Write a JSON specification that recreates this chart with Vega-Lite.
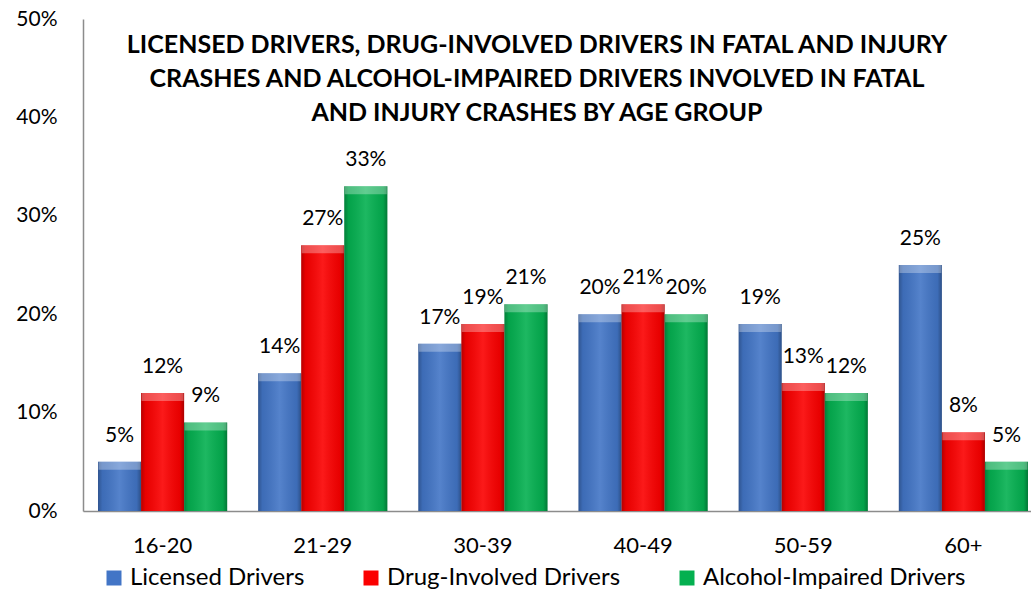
{
  "$schema": "https://vega.github.io/schema/vega-lite/v6.json",
  "width": 948,
  "height": 492,
  "autosize": {"type": "none"},
  "padding": {"left": 83, "top": 19, "right": 0, "bottom": 81},
  "background": "white",
  "config": {
    "font": "Lato",
    "view": {"stroke": null}
  },
  "title": {
    "text": [
      "LICENSED DRIVERS, DRUG-INVOLVED DRIVERS IN FATAL AND INJURY",
      "CRASHES AND ALCOHOL-IMPAIRED DRIVERS INVOLVED IN FATAL",
      "AND INJURY CRASHES BY AGE GROUP"
    ],
    "anchor": "middle",
    "baseline": "top",
    "offset": -14,
    "dx": -20,
    "dy": 104,
    "fontSize": 25,
    "fontWeight": "bold",
    "lineHeight": 34,
    "color": "#000000"
  },
  "data": {
    "values": [
      {"age": "16-20", "series": "Licensed Drivers", "pct": 0.05},
      {"age": "16-20", "series": "Drug-Involved Drivers", "pct": 0.12},
      {"age": "16-20", "series": "Alcohol-Impaired Drivers", "pct": 0.09},
      {"age": "21-29", "series": "Licensed Drivers", "pct": 0.14},
      {"age": "21-29", "series": "Drug-Involved Drivers", "pct": 0.27},
      {"age": "21-29", "series": "Alcohol-Impaired Drivers", "pct": 0.33},
      {"age": "30-39", "series": "Licensed Drivers", "pct": 0.17},
      {"age": "30-39", "series": "Drug-Involved Drivers", "pct": 0.19},
      {"age": "30-39", "series": "Alcohol-Impaired Drivers", "pct": 0.21},
      {"age": "40-49", "series": "Licensed Drivers", "pct": 0.20},
      {"age": "40-49", "series": "Drug-Involved Drivers", "pct": 0.21},
      {"age": "40-49", "series": "Alcohol-Impaired Drivers", "pct": 0.20},
      {"age": "50-59", "series": "Licensed Drivers", "pct": 0.19},
      {"age": "50-59", "series": "Drug-Involved Drivers", "pct": 0.13},
      {"age": "50-59", "series": "Alcohol-Impaired Drivers", "pct": 0.12},
      {"age": "60+", "series": "Licensed Drivers", "pct": 0.25},
      {"age": "60+", "series": "Drug-Involved Drivers", "pct": 0.08},
      {"age": "60+", "series": "Alcohol-Impaired Drivers", "pct": 0.05}
    ]
  },
  "encoding": {
    "x": {
      "field": "age",
      "type": "nominal",
      "sort": ["16-20", "21-29", "30-39", "40-49", "50-59", "60+"],
      "scale": {"paddingInner": 0.1935, "paddingOuter": 0.0562, "align": 0.833},
      "axis": {
        "title": null,
        "labelAngle": 0,
        "labelFontSize": 22,
        "labelColor": "#000000",
        "labelPadding": 24,
        "ticks": false,
        "domainColor": "#8c8c8c",
        "domainWidth": 1.5
      }
    },
    "xOffset": {
      "field": "series",
      "sort": ["Licensed Drivers", "Drug-Involved Drivers", "Alcohol-Impaired Drivers"],
      "scale": {"paddingInner": 0, "paddingOuter": 0}
    },
    "y": {
      "field": "pct",
      "type": "quantitative",
      "scale": {"domain": [0, 0.5]},
      "axis": {
        "title": null,
        "format": ".0%",
        "values": [0, 0.1, 0.2, 0.3, 0.4, 0.5],
        "grid": false,
        "ticks": false,
        "labelFontSize": 21,
        "labelColor": "#000000",
        "labelPadding": 26,
        "domainColor": "#8c8c8c",
        "domainWidth": 1.5
      }
    }
  },
  "layer": [
    {
      "mark": {"type": "bar"},
      "encoding": {
        "color": {
          "field": "series",
          "type": "nominal",
          "sort": ["Licensed Drivers", "Drug-Involved Drivers", "Alcohol-Impaired Drivers"],
          "scale": {"range": ["#4275c6", "#fb0000", "#04b050"]},
          "legend": {
            "title": null,
            "orient": "none",
            "legendX": 19,
            "legendY": 547,
            "direction": "horizontal",
            "symbolType": "square",
            "symbolSize": 225,
            "symbolStrokeWidth": 0,
            "labelFontSize": 24,
            "labelLimit": 0,
            "labelColor": "#000000",
            "labelOffset": 4,
            "columnPadding": 54
          }
        }
      }
    },
    {
      "mark": {
        "type": "bar",
        "fill": {
          "gradient": "linear",
          "x1": 0, "y1": 0, "x2": 1, "y2": 0,
          "stops": [
            {"offset": 0, "color": "rgba(0,0,0,0.28)"},
            {"offset": 0.1, "color": "rgba(0,0,0,0.08)"},
            {"offset": 0.5, "color": "rgba(255,255,255,0.10)"},
            {"offset": 0.9, "color": "rgba(0,0,0,0.08)"},
            {"offset": 1, "color": "rgba(0,0,0,0.32)"}
          ]
        }
      }
    },
    {
      "mark": {
        "type": "tick",
        "orient": "horizontal",
        "size": 42,
        "thickness": 8,
        "yOffset": 4,
        "color": "#ffffff",
        "opacity": 0.3
      }
    },
    {
      "mark": {
        "type": "text",
        "baseline": "middle",
        "align": "center",
        "dy": -26,
        "fontSize": 21,
        "color": "#000000"
      },
      "encoding": {
        "text": {"field": "pct", "type": "quantitative", "format": ".0%"}
      }
    }
  ]
}
